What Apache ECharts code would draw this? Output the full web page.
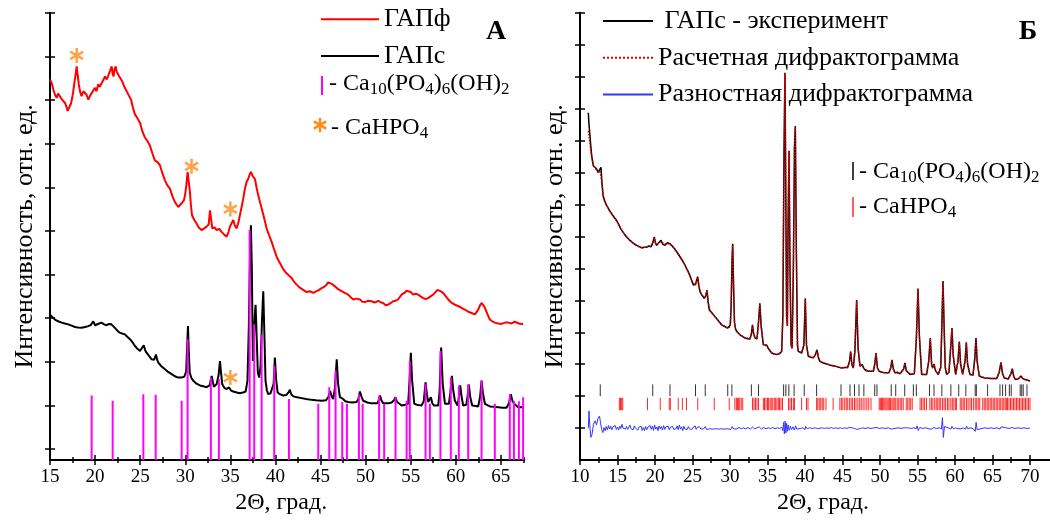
<!DOCTYPE html>
<html><head><meta charset="utf-8">
<script src="https://cdn.jsdelivr.net/npm/echarts@6/dist/echarts.min.js"></script>
<style>html,body{margin:0;padding:0;background:#fff}#c{width:1050px;height:520px}</style>
</head><body><div id="c"></div>
<script>
// ---------- Panel A data ----------
const xTicksA = [15,20,25,30,35,40,45,50,55,60,65];
const xMinorA = [17.5,22.5,27.5,32.5,37.5,42.5,47.5,52.5,57.5,62.5,67.5];
const yTicksA = [0,1,2,3,4,5,6,7,8,9,10];
const gapfA = [[15.0,8.47],[15.2,8.38],[15.37,8.24],[15.55,8.12],[15.74,8.05],[15.9,8.15],[16.1,8.13],[16.3,8.02],[16.47,8.06],[16.7,7.92],[16.96,7.75],[17.15,7.84],[17.33,7.92],[17.55,8.15],[17.7,8.39],[17.85,8.6],[17.96,8.77],[18.08,8.55],[18.2,8.35],[18.35,8.18],[18.5,8.09],[18.7,8.2],[18.88,8.24],[19.05,8.12],[19.25,8.01],[19.45,8.1],[19.6,8.13],[19.8,8.22],[19.99,8.28],[20.15,8.2],[20.35,8.36],[20.5,8.3],[20.7,8.32],[20.9,8.45],[21.1,8.54],[21.3,8.47],[21.46,8.5],[21.65,8.66],[21.84,8.77],[21.95,8.6],[22.05,8.54],[22.15,8.7],[22.28,8.77],[22.4,8.65],[22.57,8.58],[22.8,8.5],[23.0,8.43],[23.25,8.3],[23.5,8.2],[23.75,8.1],[23.98,8.01],[24.2,7.82],[24.42,7.67],[24.7,7.58],[24.98,7.48],[25.25,7.28],[25.53,7.14],[25.8,7.06],[26.09,6.95],[26.35,6.78],[26.64,6.61],[26.9,6.58],[27.2,6.5],[27.5,6.3],[27.75,6.16],[28.0,6.05],[28.3,5.97],[28.6,5.78],[28.86,5.66],[29.05,5.6],[29.22,5.55],[29.45,5.6],[29.67,5.59],[29.85,5.7],[29.97,5.81],[30.12,6.05],[30.26,6.35],[30.4,6.1],[30.52,5.89],[30.62,5.6],[30.75,5.36],[31.0,5.25],[31.26,5.17],[31.5,5.08],[31.8,5.02],[32.1,5.06],[32.37,5.1],[32.6,5.15],[32.74,5.47],[32.85,5.3],[33.0,5.06],[33.25,5.08],[33.48,5.02],[33.75,5.05],[34.03,4.98],[34.3,4.92],[34.59,4.87],[34.8,4.98],[34.96,5.1],[35.15,5.18],[35.32,5.25],[35.5,5.12],[35.7,5.06],[35.9,5.2],[36.06,5.36],[36.25,5.55],[36.43,5.74],[36.6,5.95],[36.8,6.12],[37.0,6.2],[37.15,6.3],[37.28,6.35],[37.5,6.25],[37.73,6.19],[37.9,6.0],[38.1,5.81],[38.3,5.65],[38.54,5.47],[38.8,5.25],[39.02,5.06],[39.3,4.9],[39.58,4.75],[39.85,4.58],[40.13,4.41],[40.4,4.3],[40.69,4.19],[40.95,4.1],[41.24,4.03],[41.5,3.98],[41.8,3.92],[42.05,3.84],[42.35,3.77],[42.7,3.7],[43.08,3.65],[43.45,3.6],[43.82,3.62],[44.2,3.58],[44.57,3.62],[44.85,3.65],[45.12,3.69],[45.4,3.72],[45.68,3.77],[45.85,3.82],[46.04,3.84],[46.3,3.78],[46.6,3.73],[47.0,3.66],[47.34,3.62],[47.7,3.58],[48.07,3.54],[48.35,3.48],[48.63,3.43],[49.0,3.45],[49.37,3.43],[49.65,3.38],[49.92,3.37],[50.3,3.4],[50.66,3.39],[51.0,3.36],[51.4,3.4],[51.7,3.36],[51.95,3.35],[52.2,3.3],[52.5,3.31],[52.8,3.35],[53.06,3.39],[53.3,3.4],[53.6,3.43],[53.99,3.54],[54.3,3.58],[54.55,3.63],[54.72,3.65],[55.0,3.6],[55.28,3.54],[55.55,3.56],[55.83,3.54],[56.1,3.5],[56.39,3.46],[56.65,3.44],[56.94,3.46],[57.2,3.5],[57.5,3.54],[57.75,3.6],[57.98,3.65],[58.3,3.62],[58.6,3.58],[58.9,3.5],[59.16,3.43],[59.5,3.36],[59.9,3.31],[60.25,3.28],[60.64,3.24],[61.0,3.2],[61.38,3.15],[61.75,3.12],[62.12,3.09],[62.3,3.14],[62.49,3.2],[62.7,3.3],[62.86,3.35],[63.05,3.3],[63.23,3.24],[63.5,3.1],[63.78,2.97],[64.05,2.93],[64.33,2.9],[64.7,2.88],[65.08,2.87],[65.45,2.9],[65.81,2.9],[66.2,2.88],[66.55,2.92],[67.0,2.88],[67.47,2.86]];
const gapsA = [[15.0,3.08],[15.3,3.02],[15.55,2.97],[15.9,2.93],[16.3,2.9],[16.65,2.88],[17.03,2.86],[17.4,2.83],[17.77,2.8],[18.1,2.79],[18.5,2.78],[18.9,2.8],[19.25,2.82],[19.55,2.85],[19.8,2.93],[20.0,2.84],[20.17,2.84],[20.45,2.88],[20.7,2.9],[21.0,2.86],[21.27,2.84],[21.55,2.87],[21.8,2.86],[22.0,2.82],[22.2,2.78],[22.45,2.72],[22.73,2.67],[23.0,2.65],[23.3,2.63],[23.6,2.57],[23.87,2.52],[24.15,2.45],[24.4,2.37],[24.7,2.3],[24.98,2.25],[25.2,2.28],[25.4,2.38],[25.55,2.27],[25.7,2.21],[26.0,2.13],[26.27,2.06],[26.55,2.05],[26.75,2.17],[26.9,2.04],[27.0,1.99],[27.35,1.9],[27.75,1.83],[28.1,1.77],[28.49,1.72],[28.85,1.67],[29.22,1.64],[29.55,1.64],[29.89,1.66],[30.1,1.78],[30.2,2.3],[30.3,2.82],[30.4,2.2],[30.5,1.75],[30.7,1.62],[30.89,1.57],[31.25,1.5],[31.63,1.46],[32.0,1.44],[32.37,1.42],[32.7,1.46],[32.85,1.6],[32.93,1.68],[33.05,1.55],[33.18,1.43],[33.48,1.49],[33.7,1.7],[33.85,2.02],[33.97,1.75],[34.1,1.49],[34.35,1.4],[34.59,1.38],[34.85,1.42],[35.05,1.35],[35.32,1.32],[35.7,1.3],[36.06,1.28],[36.4,1.3],[36.7,1.32],[36.9,1.57],[37.05,2.8],[37.18,4.4],[37.28,5.13],[37.38,4.2],[37.5,2.02],[37.6,2.4],[37.72,3.1],[37.8,3.31],[37.9,2.7],[38.05,1.75],[38.2,1.64],[38.35,1.9],[38.5,2.9],[38.65,3.62],[38.78,2.6],[38.9,1.57],[39.05,1.35],[39.2,1.26],[39.45,1.28],[39.64,1.3],[39.8,1.5],[39.94,2.1],[40.08,1.6],[40.24,1.3],[40.5,1.26],[40.86,1.23],[41.2,1.24],[41.45,1.3],[41.6,1.36],[41.75,1.26],[41.98,1.21],[42.4,1.19],[42.9,1.17],[43.4,1.15],[44.0,1.13],[44.5,1.12],[45.12,1.11],[45.6,1.12],[45.86,1.19],[46.07,1.33],[46.25,1.2],[46.4,1.15],[46.6,1.4],[46.8,2.06],[46.95,1.5],[47.15,1.19],[47.5,1.15],[47.75,1.1],[48.07,1.08],[48.5,1.07],[49.0,1.08],[49.2,1.15],[49.37,1.32],[49.55,1.2],[49.73,1.11],[50.2,1.07],[50.66,1.05],[51.0,1.05],[51.33,1.05],[51.5,1.15],[51.6,1.23],[51.75,1.12],[51.96,1.05],[52.5,1.05],[52.9,1.07],[53.15,1.12],[53.3,1.19],[53.5,1.08],[54.0,1.0],[54.4,1.02],[54.72,1.04],[54.88,1.6],[55.02,2.21],[55.15,1.6],[55.4,1.04],[55.8,1.01],[56.2,1.0],[56.45,1.1],[56.65,1.53],[56.8,1.25],[56.94,1.08],[57.1,1.12],[57.24,1.19],[57.4,1.05],[57.6,1.0],[58.05,1.0],[58.2,1.3],[58.38,2.33],[58.55,1.5],[58.8,1.04],[59.24,1.04],[59.4,1.3],[59.57,1.68],[59.72,1.35],[59.9,1.11],[60.2,1.0],[60.35,1.2],[60.49,1.46],[60.65,1.2],[60.82,1.0],[61.16,1.02],[61.3,1.2],[61.45,1.48],[61.6,1.2],[61.82,1.0],[62.2,0.99],[62.49,0.98],[62.7,1.2],[62.86,1.57],[63.0,1.3],[63.23,1.04],[63.78,0.98],[64.2,0.97],[64.7,0.96],[65.2,0.95],[65.63,0.95],[65.9,1.05],[66.1,1.26],[66.3,1.1],[66.48,1.04],[66.92,0.96],[67.47,0.96]];
const hapPosA = [19.62,21.95,25.35,26.72,29.6,30.26,32.84,33.73,37.14,37.65,38.47,39.87,41.5,44.75,45.97,46.67,47.41,47.93,49.26,49.67,51.5,52.06,53.32,54.55,54.9,56.65,57.13,58.3,59.45,60.34,61.38,62.86,64.33,65.99,66.45,67.0,67.47];
const hapHtA  = [1.23,1.11,1.26,1.25,1.11,2.52,1.64,1.61,5.02,2.86,2.63,1.91,1.15,1.04,1.42,1.8,1.08,1.04,1.26,1.04,1.23,1.04,1.19,1.11,2.02,1.49,1.04,2.25,1.64,1.46,1.49,1.57,1.04,1.26,1.1,1.1,1.19];
const starsA = [[17.96,9.02],[30.7,6.48],[35.0,5.5],[35.0,1.64]];

// ---------- Panel B data ----------
const xTicksB = [10,15,20,25,30,35,40,45,50,55,60,65,70];
const xMinorB = [12.5,17.5,22.5,27.5,32.5,37.5,42.5,47.5,52.5,57.5,62.5,67.5];
const yTicksB = [1,2,3,4,5,6,7,8,9,10,11,12,13,14];
const expB = [[11.11,10.87],[11.2,10.5],[11.33,10.14],[11.45,9.8],[11.56,9.52],[11.68,9.35],[11.78,9.21],[12.0,9.15],[12.22,9.11],[12.4,9.0],[12.53,8.95],[12.65,9.05],[12.8,9.16],[12.92,8.7],[13.07,8.28],[13.3,8.1],[13.56,7.97],[13.9,7.82],[14.22,7.71],[14.55,7.6],[14.89,7.5],[15.2,7.35],[15.56,7.19],[15.9,7.08],[16.22,6.98],[16.55,6.9],[16.89,6.83],[17.2,6.77],[17.56,6.72],[17.9,6.68],[18.22,6.64],[18.55,6.66],[18.89,6.67],[19.2,6.7],[19.47,6.67],[19.7,6.8],[19.91,6.98],[20.05,6.8],[20.22,6.72],[20.5,6.8],[20.8,6.88],[21.05,6.75],[21.33,6.72],[21.65,6.8],[22.0,6.77],[22.3,6.7],[22.58,6.62],[22.9,6.52],[23.2,6.41],[23.5,6.3],[23.78,6.2],[24.1,6.05],[24.44,5.89],[24.8,5.68],[25.11,5.48],[25.4,5.5],[25.69,5.74],[25.85,5.45],[26.0,5.27],[26.3,5.15],[26.58,5.06],[26.78,5.15],[26.93,5.32],[27.08,4.95],[27.24,4.7],[27.6,4.6],[28.0,4.49],[28.45,4.36],[28.89,4.23],[29.3,4.18],[29.69,4.13],[29.9,4.15],[30.04,4.23],[30.15,4.8],[30.28,6.3],[30.36,6.77],[30.48,5.4],[30.6,4.3],[30.76,4.08],[31.0,4.0],[31.33,3.92],[31.65,3.87],[32.0,3.82],[32.35,3.8],[32.67,3.79],[32.85,3.95],[33.0,4.23],[33.15,3.95],[33.33,3.82],[33.6,3.8],[33.8,4.3],[33.98,4.91],[34.15,4.2],[34.44,3.61],[34.7,3.58],[34.89,3.6],[35.1,3.5],[35.56,3.35],[35.9,3.32],[36.22,3.3],[36.6,3.33],[36.89,3.4],[37.05,4.5],[37.2,9.5],[37.33,12.12],[37.45,8.0],[37.55,4.5],[37.65,4.2],[37.75,7.5],[37.87,9.68],[38.0,6.0],[38.15,3.6],[38.28,3.5],[38.45,6.0],[38.6,9.8],[38.71,10.45],[38.85,6.5],[39.0,3.6],[39.11,3.4],[39.56,3.35],[39.85,3.6],[40.04,5.06],[40.2,3.6],[40.44,3.25],[40.8,3.22],[41.11,3.2],[41.4,3.3],[41.6,3.45],[41.8,3.2],[42.0,3.09],[42.45,3.04],[42.89,3.01],[43.4,2.97],[44.0,2.94],[44.45,2.91],[44.89,2.88],[45.3,2.9],[45.69,2.9],[45.95,3.1],[46.09,3.4],[46.25,3.0],[46.44,2.88],[46.65,3.4],[46.89,5.01],[47.08,3.5],[47.33,2.94],[47.5,2.97],[47.64,2.99],[47.8,2.88],[48.1,2.8],[48.44,2.78],[49.11,2.78],[49.3,3.0],[49.47,3.35],[49.65,2.9],[49.87,2.78],[50.3,2.75],[50.67,2.73],[51.2,2.73],[51.45,2.9],[51.6,3.14],[51.78,2.85],[52.0,2.73],[52.3,2.75],[52.67,2.7],[53.15,2.85],[53.33,3.04],[53.5,2.8],[54.0,2.68],[54.58,2.7],[54.85,3.8],[55.07,5.37],[55.25,3.9],[55.56,2.68],[56.22,2.68],[56.5,3.1],[56.71,3.82],[56.88,3.0],[57.02,2.88],[57.2,3.01],[57.4,2.8],[57.78,2.68],[58.1,2.9],[58.25,4.2],[58.4,5.6],[58.55,4.2],[58.7,2.9],[58.89,2.68],[59.2,2.75],[59.45,3.6],[59.6,4.13],[59.75,3.3],[60.09,2.68],[60.4,3.1],[60.58,3.71],[60.75,3.0],[61.02,2.68],[61.35,3.1],[61.51,3.69],[61.68,3.0],[62.0,2.68],[62.4,2.66],[62.65,3.2],[62.8,3.82],[62.95,3.1],[63.24,2.63],[63.6,2.6],[64.0,2.57],[64.45,2.56],[64.89,2.55],[65.56,2.55],[65.9,2.75],[66.13,3.06],[66.35,2.7],[66.58,2.57],[67.11,2.54],[67.45,2.7],[67.64,2.86],[67.85,2.6],[68.09,2.52],[68.5,2.55],[68.8,2.63],[69.05,2.55],[69.33,2.52],[69.7,2.5],[70.0,2.47]];
const calcB = [[11.11,10.3],[11.3,9.95],[11.5,9.58],[11.7,9.3],[12.0,9.13],[12.3,9.05],[12.55,8.98],[12.68,9.06],[12.8,9.12],[12.95,8.62],[13.1,8.26],[13.5,7.99],[14.0,7.78],[14.5,7.61],[15.0,7.44],[15.5,7.22],[16.0,7.04],[16.5,6.91],[17.0,6.8],[17.5,6.72],[18.0,6.66],[18.5,6.65],[19.0,6.67],[19.5,6.69],[19.75,6.8],[19.91,6.95],[20.08,6.78],[20.4,6.77],[20.8,6.84],[21.2,6.76],[21.6,6.78],[22.0,6.75],[22.5,6.64],[23.0,6.48],[23.5,6.3],[24.0,6.1],[24.5,5.85],[25.0,5.55],[25.4,5.48],[25.69,5.72],[25.88,5.4],[26.2,5.18],[26.6,5.08],[26.8,5.16],[26.93,5.3],[27.1,4.92],[27.4,4.66],[28.0,4.48],[28.5,4.34],[29.0,4.22],[29.5,4.15],[29.9,4.15],[30.04,4.23],[30.15,4.8],[30.28,6.3],[30.36,6.74],[30.48,5.4],[30.6,4.3],[30.76,4.08],[31.0,4.0],[31.5,3.9],[32.0,3.83],[32.67,3.8],[32.85,3.95],[33.0,4.2],[33.15,3.95],[33.33,3.82],[33.6,3.8],[33.8,4.3],[33.98,4.88],[34.15,4.2],[34.44,3.62],[34.9,3.56],[35.5,3.37],[36.0,3.31],[36.5,3.32],[36.89,3.42],[37.05,4.5],[37.2,9.5],[37.33,12.08],[37.45,8.0],[37.55,4.5],[37.65,4.2],[37.75,7.5],[37.87,9.65],[38.0,6.0],[38.15,3.6],[38.28,3.5],[38.45,6.0],[38.6,9.8],[38.71,10.42],[38.85,6.5],[39.0,3.6],[39.11,3.4],[39.56,3.36],[39.85,3.6],[40.04,5.03],[40.2,3.6],[40.44,3.26],[41.11,3.21],[41.4,3.3],[41.6,3.44],[41.8,3.2],[42.0,3.09],[42.89,3.01],[44.0,2.94],[44.89,2.89],[45.69,2.9],[45.95,3.1],[46.09,3.38],[46.25,3.0],[46.44,2.89],[46.65,3.4],[46.89,4.98],[47.08,3.5],[47.33,2.95],[47.64,2.98],[47.8,2.88],[48.44,2.79],[49.11,2.78],[49.3,3.0],[49.47,3.33],[49.65,2.9],[49.87,2.78],[50.67,2.73],[51.2,2.74],[51.45,2.9],[51.6,3.12],[51.78,2.85],[52.0,2.74],[52.67,2.71],[53.15,2.85],[53.33,3.02],[53.5,2.8],[54.0,2.69],[54.58,2.7],[54.85,3.8],[55.07,5.34],[55.25,3.9],[55.56,2.69],[56.22,2.68],[56.5,3.1],[56.71,3.8],[56.88,3.0],[57.02,2.88],[57.2,3.0],[57.4,2.8],[57.78,2.68],[58.1,2.9],[58.25,4.2],[58.4,5.58],[58.55,4.2],[58.7,2.9],[58.89,2.68],[59.2,2.75],[59.45,3.6],[59.6,4.11],[59.75,3.3],[60.09,2.68],[60.4,3.1],[60.58,3.69],[60.75,3.0],[61.02,2.68],[61.35,3.1],[61.51,3.67],[61.68,3.0],[62.0,2.68],[62.4,2.66],[62.65,3.2],[62.8,3.78],[62.95,3.1],[63.24,2.63],[64.0,2.57],[64.89,2.55],[65.56,2.55],[65.9,2.75],[66.13,3.04],[66.35,2.7],[66.58,2.57],[67.11,2.54],[67.45,2.7],[67.64,2.84],[67.85,2.6],[68.09,2.52],[68.5,2.55],[68.8,2.62],[69.05,2.55],[69.33,2.52],[70.0,2.47]];
const diffB = [[11.11,1.0],[11.2,1.54],[11.3,1.1],[11.45,0.71],[11.6,0.8],[11.8,1.12],[12.0,1.23],[12.2,1.1],[12.4,1.3],[12.6,1.38],[12.75,1.15],[12.9,0.95],[13.05,0.86],[13.2,1.02],[13.35,0.92],[13.5,1.05],[13.65,0.94],[13.8,1.08],[13.95,0.97],[14.1,1.06],[14.25,0.95],[14.4,1.04],[14.55,0.98],[14.7,1.08],[14.85,0.96],[15.0,1.03],[15.15,0.94],[15.3,1.06],[15.45,0.99],[15.6,1.12],[15.75,1.0],[15.9,1.06],[16.05,0.97],[16.2,1.05],[16.35,0.96],[16.5,1.02],[16.65,1.1],[16.8,0.98],[16.95,1.04],[17.1,0.95],[17.25,1.07],[17.4,1.0],[17.55,1.05],[17.7,0.94],[17.85,1.03],[18.0,0.97],[18.15,1.06],[18.3,0.93],[18.45,1.02],[18.6,0.92],[18.75,1.05],[18.9,0.95],[19.05,1.03],[19.2,0.98],[19.35,1.08],[19.5,0.96],[19.65,1.06],[19.8,0.93],[19.95,1.1],[20.1,0.97],[20.25,1.04],[20.4,0.92],[20.55,1.07],[20.7,0.98],[20.85,1.05],[21.0,0.94],[21.15,1.08],[21.3,0.96],[21.45,1.04],[21.6,0.99],[21.75,1.06],[21.9,0.95],[22.05,1.03],[22.2,0.97],[22.35,1.05],[22.5,0.96],[22.65,1.02],[22.8,0.98],[22.95,1.07],[23.1,0.95],[23.25,1.1],[23.4,0.97],[23.55,1.04],[23.7,0.92],[23.85,1.06],[24.0,0.97],[24.15,1.03],[24.3,0.96],[24.45,1.05],[24.6,0.98],[24.75,1.04],[24.9,0.95],[25.05,1.02],[25.2,0.97],[25.35,1.07],[25.5,0.96],[25.65,1.03],[25.8,0.99],[25.95,1.04],[26.1,0.97],[26.3,1.02],[26.5,0.98],[26.7,1.05],[26.9,0.96],[27.1,1.02],[27.3,0.98],[27.5,1.03],[27.7,0.97],[27.9,1.02],[28.1,0.98],[28.3,1.01],[28.5,0.97],[28.7,1.03],[28.9,0.98],[29.1,1.02],[29.3,0.97],[29.5,1.01],[29.7,0.98],[29.9,1.03],[30.1,0.96],[30.3,1.05],[30.5,0.97],[30.7,1.01],[30.9,0.98],[31.2,1.02],[31.5,0.98],[31.8,1.01],[32.1,0.98],[32.4,1.02],[32.7,0.97],[33.0,1.03],[33.3,0.98],[33.6,1.01],[33.9,1.04],[34.2,0.97],[34.5,1.02],[34.8,0.98],[35.1,1.01],[35.4,0.99],[35.7,1.02],[36.0,0.98],[36.3,1.01],[36.6,0.99],[36.9,1.03],[37.05,0.92],[37.15,1.18],[37.25,0.82],[37.35,1.22],[37.45,0.85],[37.55,1.15],[37.65,0.9],[37.75,1.1],[37.9,0.93],[38.05,1.06],[38.2,0.96],[38.4,1.04],[38.6,0.94],[38.75,1.07],[38.9,0.97],[39.1,1.02],[39.4,0.99],[39.7,1.01],[40.0,0.96],[40.1,1.05],[40.3,0.98],[40.6,1.01],[41.0,0.99],[41.4,1.01],[41.7,0.98],[42.0,1.0],[42.3,1.01],[42.6,0.99],[42.9,1.01],[43.2,0.99],[43.5,1.02],[43.8,0.99],[44.1,1.01],[44.4,0.99],[44.7,1.01],[45.0,0.99],[45.3,1.01],[45.6,0.99],[45.9,1.02],[46.1,0.97],[46.3,1.01],[46.6,0.99],[46.8,1.04],[46.95,0.96],[47.1,1.02],[47.4,0.99],[47.7,1.01],[48.0,0.99],[48.4,1.01],[48.8,0.99],[49.2,1.01],[49.4,0.97],[49.6,1.02],[49.9,0.99],[50.3,1.01],[50.7,0.99],[51.1,1.01],[51.5,0.97],[51.7,1.03],[52.0,0.99],[52.4,1.01],[52.8,0.99],[53.2,1.01],[53.4,0.98],[53.7,1.01],[54.1,0.99],[54.5,1.01],[54.8,0.98],[54.95,1.07],[55.1,0.93],[55.3,1.02],[55.7,0.99],[56.1,1.01],[56.5,0.98],[56.7,1.04],[56.9,0.97],[57.2,1.02],[57.5,0.99],[57.9,1.01],[58.2,0.98],[58.33,1.33],[58.45,0.71],[58.6,1.05],[58.8,0.99],[59.1,1.01],[59.45,0.97],[59.6,1.06],[59.8,0.98],[60.1,1.01],[60.4,0.98],[60.6,1.04],[60.8,0.98],[61.1,1.01],[61.4,0.97],[61.55,1.06],[61.7,0.98],[62.0,1.01],[62.4,0.99],[62.7,0.9],[62.82,1.18],[62.95,0.95],[63.2,1.01],[63.6,0.99],[64.0,1.01],[64.4,0.99],[64.8,1.01],[65.2,0.99],[65.6,1.01],[66.0,0.97],[66.15,1.04],[66.4,0.99],[66.8,1.01],[67.2,0.99],[67.6,1.02],[68.0,0.99],[68.4,1.01],[68.8,0.99],[69.2,1.01],[69.6,0.99],[70.0,1.0]];
const hapPosB = [12.7,19.7,22.0,25.4,26.7,29.7,30.25,32.85,33.8,37.15,37.45,37.85,38.55,39.9,41.55,44.8,46.0,46.6,47.2,47.85,49.3,49.6,51.5,52.1,53.3,54.45,54.85,56.6,57.2,58.25,59.45,60.5,61.45,62.7,62.85,64.35,66.0,66.35,66.75,67.25,67.5,68.7,68.9,69.1,69.6];
const monPosB = [15.25,15.4,15.55,15.7,19.0,20.7,21.9,22.05,23.1,23.65,24.2,25.7,27.9,29.9,30.65,30.85,31.0,31.15,31.3,31.5,31.7,33.0,33.2,33.4,33.6,33.8,34.45,34.6,34.8,35.0,35.15,35.35,35.5,35.7,35.9,36.05,36.25,36.45,36.6,36.8,37.0,37.8,38.0,38.2,38.45,38.6,39.55,40.2,40.4,41.55,41.7,41.9,42.1,42.3,42.5,42.8,43.75,44.65,44.85,45.05,45.3,45.5,45.7,45.95,46.15,46.35,46.6,46.8,47.05,47.3,47.5,47.75,48.0,48.25,48.5,48.8,49.9,50.05,50.2,50.35,50.5,50.65,50.8,50.95,51.1,51.25,51.4,51.6,51.75,51.9,52.1,52.3,52.5,52.7,52.9,53.1,53.5,53.7,53.9,54.1,54.3,55.35,55.55,55.75,55.95,56.2,56.65,56.85,57.05,57.3,57.5,57.7,57.9,58.1,58.35,58.55,58.75,59.0,59.2,59.45,59.65,59.85,60.05,60.2,60.7,60.9,61.1,61.3,61.55,61.75,62.0,62.2,62.45,62.7,62.9,63.1,63.3,63.7,63.9,64.1,64.3,64.5,64.7,64.9,65.1,65.3,65.5,65.7,65.9,66.1,66.3,66.5,66.7,66.85,67.0,67.2,67.4,67.6,67.8,68.0,68.2,68.4,68.6,68.8,69.0,69.2,69.4,69.6,69.8,70.0];

// ---------- layout / style ----------
const FONT = 'Liberation Serif';
const A_YMIN = -0.25, A_YMAX = 10, A_XMIN = 15, A_XMAX = 67.6;
const B_YMIN = 0, B_YMAX = 14, B_XMIN = 10, B_XMAX = 72.67;
const HAP_BAND = [2.0, 2.37], MON_BAND = [1.56, 1.95];

function armPoints(a, L, w, cx, cy) {
  const r = a * Math.PI / 180, dx = Math.cos(r), dy = Math.sin(r), nx = -dy, ny = dx;
  return [[cx+L*dx+w*nx, cy+L*dy+w*ny], [cx+L*dx-w*nx, cy+L*dy-w*ny], [cx-L*dx-w*nx, cy-L*dy-w*ny], [cx-L*dx+w*nx, cy-L*dy+w*ny]];
}
function asteriskPath() {
  let d = '';
  [90, 30, -30].forEach(a => {
    d += 'M' + armPoints(a, 10, 1.7, 0, 0).map(q => q[0].toFixed(2) + ' ' + q[1].toFixed(2)).join('L') + 'Z';
  });
  return d;
}
const STAR = asteriskPath();
const STAR_COLOR = '#ff8c1a';

const tickLS = { color: '#000', width: 1.5 };
function xAxes(gi, min, max, majors, minors, namePad) {
  const base = { type: 'value', gridIndex: gi, min, max, position: 'bottom', splitLine: { show: false },
    axisLabel: { show: false }, axisLine: { show: false, onZero: false }, axisTick: { show: false } };
  return [
    Object.assign({}, base, {
      axisLine: { show: true, onZero: false, lineStyle: { color: '#000', width: 2 } },
      axisTick: { show: true, inside: false, length: 5, customValues: majors, lineStyle: tickLS },
      axisLabel: { show: true, customValues: majors, margin: 7, color: '#000', fontFamily: FONT, fontSize: 19 },
      name: '2Θ, град.', nameLocation: 'middle', nameGap: 27,
      nameTextStyle: { fontFamily: FONT, fontSize: 24, color: '#000', padding: namePad }
    }),
    Object.assign({}, base, { axisTick: { show: true, inside: true, length: 5, customValues: majors, lineStyle: tickLS } }),
    Object.assign({}, base, { axisTick: { show: true, inside: false, length: 3, customValues: minors, lineStyle: tickLS } }),
    Object.assign({}, base, { axisTick: { show: true, inside: true, length: 3, customValues: minors, lineStyle: tickLS } })
  ];
}
function yAxes(gi, min, max, ticks) {
  const base = { type: 'value', gridIndex: gi, min, max, position: 'left', splitLine: { show: false },
    axisLabel: { show: false }, axisLine: { show: false, onZero: false }, axisTick: { show: false } };
  return [
    Object.assign({}, base, {
      axisLine: { show: true, onZero: false, lineStyle: { color: '#000', width: 2 } },
      axisTick: { show: true, inside: false, length: 5, customValues: ticks, lineStyle: tickLS },
      name: 'Интенсивность, отн. ед.', nameLocation: 'middle', nameGap: 12,
      nameTextStyle: { fontFamily: FONT, fontSize: 26, color: '#000' }
    }),
    Object.assign({}, base, { axisTick: { show: true, inside: true, length: 5, customValues: ticks, lineStyle: tickLS } })
  ];
}
function stickSeries(name, xi, yi, data, color, width, z) {
  return {
    type: 'custom', name, xAxisIndex: xi, yAxisIndex: yi, z, data, clip: true,
    renderItem: (params, api) => {
      const p0 = api.coord([api.value(0), api.value(1)]);
      const p1 = api.coord([api.value(0), api.value(2)]);
      return { type: 'line', shape: { x1: p0[0], y1: p0[1], x2: p1[0], y2: p1[1] },
        style: { stroke: color, lineWidth: width } };
    }
  };
}
const richBase = {
  n: { fontFamily: FONT, fontSize: 24, lineHeight: 28, fill: '#000' },
  s: { fontFamily: FONT, fontSize: 17, lineHeight: 14, verticalAlign: 'bottom', fill: '#000' }
};
const hapLabel = '{n|- Ca}{s|10}{n|(PO}{s|4}{n|)}{s|6}{n|(OH)}{s|2}';
const monLabel = '{n|- CaHPO}{s|4}';
const legendStar = { type: 'group', children: [90, 30, -30].map(a => ({
  type: 'polygon', shape: { points: armPoints(a, 7.2, 1.25, 320, 125) }, style: { fill: STAR_COLOR } })) };
const legendText = { fontFamily: FONT, fontSize: 26, color: '#000', lineHeight: 22 };

const chart = echarts.init(document.getElementById('c'), null, { renderer: 'canvas' });
chart.setOption({
  animation: false,
  backgroundColor: '#fff',
  textStyle: { fontFamily: FONT },
  grid: [
    { left: 50, top: 12.7, width: 474.3, height: 450.6, containLabel: false },
    { left: 580, top: 12.7, width: 470, height: 450, containLabel: false }
  ],
  xAxis: [].concat(xAxes(0, A_XMIN, A_XMAX, xTicksA, xMinorA, [0, 12, 0, 0]),
                   xAxes(1, B_XMIN, B_XMAX, xTicksB, xMinorB, [0, 0, 0, 16])),
  yAxis: [].concat(yAxes(0, A_YMIN, A_YMAX, yTicksA), yAxes(1, B_YMIN, B_YMAX, yTicksB)),
  legend: [
    { data: ['ГАПф', 'ГАПс'], orient: 'vertical', left: 320, top: 6.3, padding: 0, itemWidth: 58, itemHeight: 14,
      itemGap: 10.7, selectedMode: false, itemStyle: { opacity: 0 }, textStyle: legendText },
    { data: [' ГАПс - эксперимент', 'Расчетная дифрактограмма', 'Разностная дифрактограмма'], orient: 'vertical',
      left: 602, top: 8, padding: 0, itemWidth: 50, itemHeight: 14, itemGap: 10.7, selectedMode: false,
      itemStyle: { opacity: 0 }, textStyle: legendText }
  ],
  series: [
    stickSeries('Ca10(PO4)6(OH)2 A', 0, 0, hapPosA.map((x, i) => [x, A_YMIN, hapHtA[i]]), '#ff00ff', 2, 4),
    { type: 'line', name: 'ГАПс', xAxisIndex: 0, yAxisIndex: 0, data: gapsA, symbol: 'none', z: 3,
      lineStyle: { color: '#000', width: 2 }, itemStyle: { color: '#000' } },
    { type: 'line', name: 'ГАПф', xAxisIndex: 0, yAxisIndex: 0, data: gapfA, symbol: 'none', z: 5,
      lineStyle: { color: '#ff0000', width: 2 }, itemStyle: { color: '#ff0000' } },
    { type: 'scatter', name: 'CaHPO4 A', xAxisIndex: 0, yAxisIndex: 0, data: starsA, symbol: 'path://' + STAR,
      symbolSize: 15, symbolKeepAspect: true, itemStyle: { color: STAR_COLOR }, z: 6 },
    { type: 'line', name: ' ГАПс - эксперимент', xAxisIndex: 4, yAxisIndex: 2, data: expB, symbol: 'none', z: 3,
      lineStyle: { color: '#000', width: 1.5 }, itemStyle: { color: '#000' } },
    { type: 'line', name: 'Расчетная дифрактограмма', xAxisIndex: 4, yAxisIndex: 2, data: calcB, symbol: 'none', z: 4,
      lineStyle: { color: '#e00000', width: 1.5, type: 'dotted' }, itemStyle: { color: '#e00000' } },
    { type: 'line', name: 'Разностная дифрактограмма', xAxisIndex: 4, yAxisIndex: 2, data: diffB, symbol: 'none', z: 3,
      lineStyle: { color: '#3434ff', width: 1 }, itemStyle: { color: '#3434ff' } },
    stickSeries('Ca10(PO4)6(OH)2 B', 4, 2, hapPosB.map(x => [x, HAP_BAND[0], HAP_BAND[1]]), '#333', 1, 3),
    stickSeries('CaHPO4 B', 4, 2, monPosB.map(x => [x, MON_BAND[0], MON_BAND[1]]), '#ff2a2a', 1, 3)
  ],
  graphic: [
    { type: 'text', x: 496, y: 32, style: { text: 'А', font: 'bold 28px "Liberation Serif"', fill: '#000', align: 'center', verticalAlign: 'middle' } },
    { type: 'text', x: 1028, y: 32, style: { text: 'Б', font: 'bold 28px "Liberation Serif"', fill: '#000', align: 'center', verticalAlign: 'middle' } },
    { type: 'line', shape: { x1: 322, y1: 76, x2: 322, y2: 95 }, style: { stroke: '#ff00ff', lineWidth: 2 } },
    { type: 'text', x: 329, y: 84, style: { text: hapLabel, rich: richBase, align: 'left', verticalAlign: 'middle' } },
    legendStar,
    { type: 'text', x: 331, y: 128, style: { text: monLabel, rich: richBase, align: 'left', verticalAlign: 'middle' } },
    { type: 'line', shape: { x1: 853, y1: 162, x2: 853, y2: 180 }, style: { stroke: '#000', lineWidth: 1.5 } },
    { type: 'text', x: 859, y: 172, style: { text: hapLabel, rich: richBase, align: 'left', verticalAlign: 'middle' } },
    { type: 'line', shape: { x1: 853, y1: 197, x2: 853, y2: 217 }, style: { stroke: '#ff2a2a', lineWidth: 1.5 } },
    { type: 'text', x: 859, y: 207, style: { text: monLabel, rich: richBase, align: 'left', verticalAlign: 'middle' } }
  ]
});
</script></body></html>
